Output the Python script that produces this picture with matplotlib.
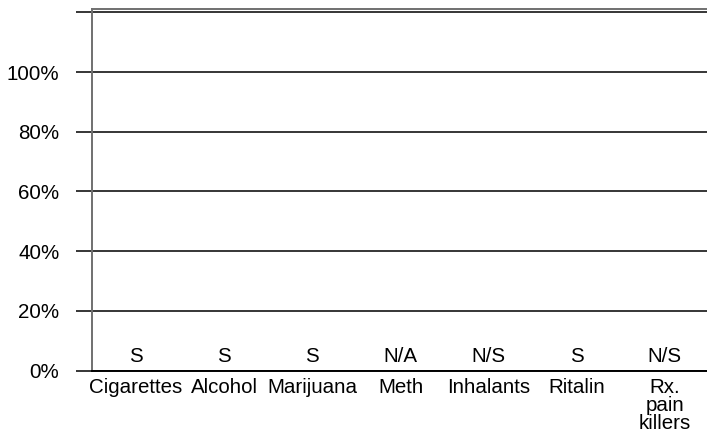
import matplotlib
matplotlib.use("Agg")
import matplotlib.pyplot as plt
import numpy as np

categories = ["Cigarettes", "Alcohol", "Marijuana", "Meth", "Inhalants", "Ritalin", "Rx.\npain\nkillers"]
values = [0, 0, 0, 0, 0, 0, 0]
annotations = ["S", "S", "S", "N/A", "N/S", "S", "N/S"]
yticks = [0, 20, 40, 60, 80, 100, 120]
ytick_labels = ["0%", "20%", "40%", "60%", "80%", "100%", ""]

plt.rcParams['font.family'] = ['Liberation Sans', 'DejaVu Sans']

fig = plt.figure(figsize=(7.07, 4.38), dpi=100)
ax = fig.add_axes([92/707, 67.3/438, 617/707, 361.7/438])

x = np.arange(len(categories))
ax.bar(x, values, width=0.6, color="#000080")
ax.set_xlim(-0.5, 6.5)
ax.set_ylim(0, 121.1)

ax.set_yticks(yticks)
ax.set_yticklabels(ytick_labels, fontsize=14.8)
ax.yaxis.grid(True, color="black", linewidth=1.1)
ax.set_axisbelow(True)
ax.tick_params(axis="y", length=11.5, width=1.1, color="black", pad=12)

ax.set_xticks(x)
ax.set_xticklabels(categories, fontsize=14.8, linespacing=0.92)
ax.tick_params(axis="x", length=0, pad=5.5)

for s in ["left", "top", "right"]:
    ax.spines[s].set_color("#707070")
    ax.spines[s].set_linewidth(1.4)
ax.spines["bottom"].set_color("black")
ax.spines["bottom"].set_linewidth(1.4)

for xi, a in zip(x, annotations):
    ax.text(xi, 3, a, ha="center", va="baseline", fontsize=14.8)

fig.savefig("out.png", dpi=100)
